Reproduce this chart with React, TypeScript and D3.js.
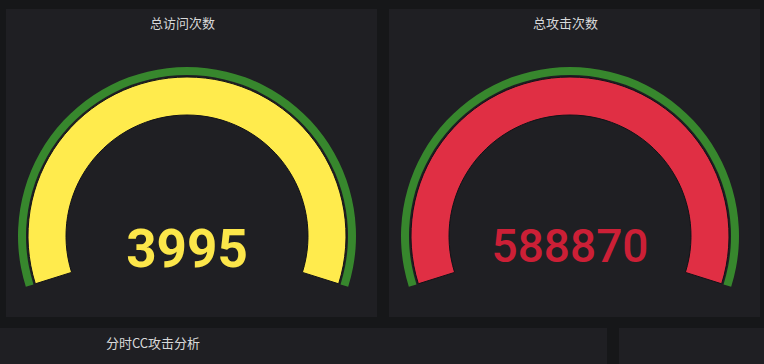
import React, { useEffect, useRef } from 'react';
import * as d3 from 'd3';

// gauge panels
const panelTitles = ['总访问次数', '总攻击次数'];
const panelValues = [3995, 588870];
const gaugeMax = [100, 100];
const gaugeColors = ['#FFEB4D', '#E02F44'];
const valueColors = ['#FCE64A', '#CC1F36'];
const valueWeights = [700, 500];
const valueSizes = [53, 46];
const valueBaselines = [31, 26];
const thresholdSteps = [0];
const thresholdColors = ['#37872D'];

// lower row titles
const bottomTitles = ['分时CC攻击分析'];

const W = 764;
const H = 364;

const App = () => {
    const ref = useRef<SVGSVGElement>(null);

    useEffect(() => {
        const svg = d3.select(ref.current);
        svg.selectAll('*').remove();

        svg.append('rect').attr('width', W).attr('height', H).attr('fill', '#161719');

        // panel frames
        const panels = [
            { x: 6, y: 9, w: 371, h: 308 },
            { x: 389, y: 9, w: 371, h: 308 },
        ];
        svg.selectAll('rect.panel')
            .data(panels)
            .enter()
            .append('rect')
            .attr('class', 'panel')
            .attr('x', d => d.x)
            .attr('y', d => d.y)
            .attr('width', d => d.w)
            .attr('height', d => d.h)
            .attr('fill', '#1f1f23');

        // bottom panels (partly visible)
        svg.append('rect').attr('x', 0).attr('y', 328).attr('width', 607).attr('height', 50).attr('fill', '#1f1f23');
        svg.append('rect').attr('x', 619).attr('y', 328).attr('width', 150).attr('height', 50).attr('fill', '#1f1f23');
        svg.append('text')
            .attr('x', 153)
            .attr('y', 343)
            .attr('dy', '0.35em')
            .attr('text-anchor', 'middle')
            .attr('font-family', '"Noto Sans CJK SC", Roboto, sans-serif')
            .attr('font-size', 13)
            .attr('fill', '#d8d9da')
            .text(bottomTitles[0]);

        const span = (107.5 * Math.PI) / 180;

        panels.forEach((p, i) => {
            const cx = p.x + p.w / 2 - 4.5;
            const cy = 236;

            svg.append('text')
                .attr('x', p.x + p.w / 2 - 9)
                .attr('y', 23)
                .attr('dy', '0.35em')
                .attr('text-anchor', 'middle')
                .attr('font-family', '"Noto Sans CJK SC", Roboto, sans-serif')
                .attr('font-size', 13)
                .attr('fill', '#d8d9da')
                .text(panelTitles[i]);

            const angle = d3.scaleLinear().domain([0, gaugeMax[i]]).range([-span, span]).clamp(true);
            const g = svg.append('g').attr('transform', `translate(${cx},${cy})`);

            // threshold band
            const band = d3.arc<number>()
                .innerRadius(161)
                .outerRadius(169)
                .startAngle(d => angle(d))
                .endAngle((d, k) => angle(k + 1 < thresholdSteps.length ? thresholdSteps[k + 1] : gaugeMax[i]));
            g.selectAll('path.band')
                .data(thresholdSteps)
                .enter()
                .append('path')
                .attr('class', 'band')
                .attr('d', band)
                .attr('fill', (d, k) => thresholdColors[k]);

            // value arc
            const valueArc = d3.arc()
                .innerRadius(121)
                .outerRadius(159)
                .startAngle(angle(0))
                .endAngle(angle(panelValues[i]));
            g.append('path')
                .attr('d', valueArc({} as any) as string)
                .attr('fill', gaugeColors[i])
                .attr('stroke', '#111217')
                .attr('stroke-width', 1);

            g.append('text')
                .attr('x', 0)
                .attr('y', valueBaselines[i])
                .attr('text-anchor', 'middle')
                .attr('font-family', 'Roboto, sans-serif')
                .attr('font-size', valueSizes[i])
                .attr('font-weight', valueWeights[i])
                .attr('fill', valueColors[i])
                .text(panelValues[i]);
        });
    }, []);

    return (
        <div style={{ position: 'fixed', left: 0, top: 0 }}>
            <svg ref={ref} width={W} height={H} style={{ display: 'block' }} />
        </div>
    );
};

export default App;
